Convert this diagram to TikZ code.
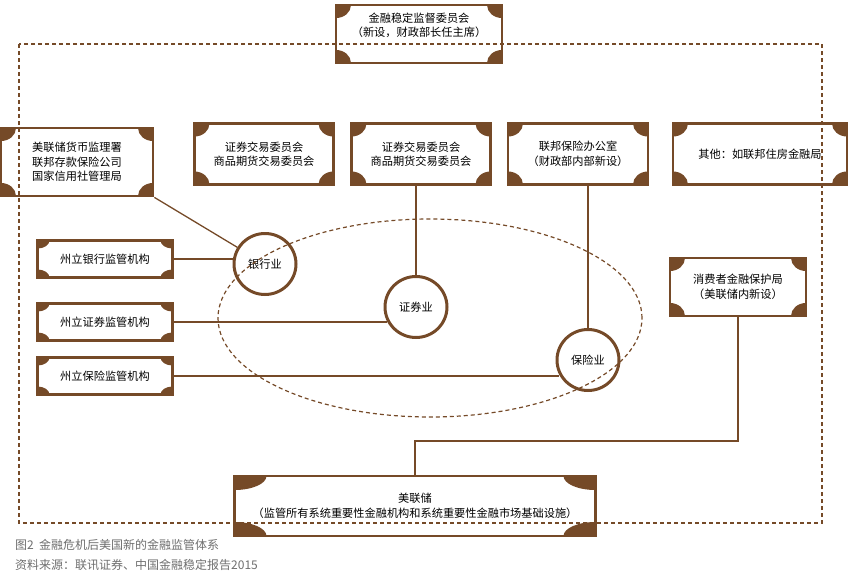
\documentclass[tikz,border=0pt]{standalone}
\usepackage{fontspec}
\newfontfamily\cnfont{Noto Sans CJK SC}
\definecolor{framebrown}{RGB}{117,74,40}
\definecolor{captiongray}{RGB}{110,110,110}
\usepackage{tikz}
\usetikzlibrary{shapes.geometric, positioning}

% filled corner pieces of a card
\newcommand{\cardcorners}[2]{%
  \fill[framebrown]
    (path picture bounding box.north west) ellipse [x radius=#1, y radius=#2]
    (path picture bounding box.north east) ellipse [x radius=#1, y radius=#2]
    (path picture bounding box.south west) ellipse [x radius=#1, y radius=#2]
    (path picture bounding box.south east) ellipse [x radius=#1, y radius=#2];}

\tikzset{
  card/.style={draw=framebrown, line width=2.8pt, align=center, inner sep=0pt,
    font=\cnfont\fontsize{11.2}{14.5}\selectfont,
    path picture={\cardcorners{15pt}{13pt}}},
  flatcard/.style={card, path picture={\cardcorners{12pt}{8pt}}},
  widecard/.style={card, path picture={\cardcorners{32pt}{14pt}}},
  sector/.style={ellipse, draw=framebrown, line width=3pt, inner sep=0pt,
    minimum width=62pt, minimum height=61pt,
    font=\cnfont\fontsize{11.2}{14.5}\selectfont},
  link/.style={draw=framebrown, line width=1.3pt},
  dashline/.style={draw=framebrown, line width=1.2pt, dash pattern=on 4pt off 3pt},
  caption/.style={anchor=west, inner sep=0pt, text=captiongray,
    font=\cnfont\fontsize{12}{14}\selectfont}
}

\begin{document}
\begin{tikzpicture}[x=1pt, y=-1pt]
    \useasboundingbox (0,0) rectangle (849,576);

    % council on top
    \node[card, minimum width=166pt, minimum height=58pt, text depth=19pt] (fsoc) at (419,34)
        {金融稳定监督委员会\\（新设，财政部长任主席）};

    % row of agencies
    \node[card, minimum width=152pt, minimum height=68pt] (occ) at (77,162)
        {美联储货币监理署\\联邦存款保险公司\\国家信用社管理局};
    \node[card, minimum width=139pt, minimum height=61pt] (sec1) at (264,154)
        {证券交易委员会\\商品期货交易委员会};
    \node[card, minimum width=139pt, minimum height=61pt] (sec2) at (421,154)
        {证券交易委员会\\商品期货交易委员会};
    \node[card, minimum width=140pt, minimum height=61pt] (fio) at (578,154)
        {联邦保险办公室\\（财政部内部新设）};
    \node[card, minimum width=174pt, minimum height=61pt] (other) at (760,154)
        {其他：如联邦住房金融局};

    % state supervisors
    \node[flatcard, minimum width=135pt, minimum height=37pt] (stbank) at (105,259) {州立银行监管机构};
    \node[flatcard, minimum width=135pt, minimum height=37pt] (stsec) at (105,322) {州立证券监管机构};
    \node[flatcard, minimum width=135pt, minimum height=37pt] (stins) at (105,376) {州立保险监管机构};

    % sectors
    \node[sector] (bank) at (265,264) {银行业};
    \node[sector] (secs) at (416,307) {证券业};
    \node[sector] (ins) at (588,360) {保险业};

    \node[card, minimum width=136pt, minimum height=58pt] (cfpb) at (738,287)
        {消费者金融保护局\\（美联储内新设）};

    % federal reserve
    \node[widecard, minimum width=361pt, minimum height=60pt] (fed) at (415,506)
        {美联储\\（监管所有系统重要性金融机构和系统重要性金融市场基础设施）};

    % connectors
    \draw[link] (occ.south east) -- (bank);
    \draw[link] (stbank.east) -- (stbank.east -| bank.west);
    \draw[link] (stsec.east) -- ([xshift=3pt]stsec.east -| secs.west);
    \draw[link] (stins.east) -- ([xshift=3pt]stins.east -| ins.west);
    \draw[link] (sec2.south -| secs.north) -- (secs.north);
    \draw[link] (fio.south -| ins.north) -- (ins.north);
    \coordinate (bend) at (0,441);
    \draw[link] (cfpb.south) -- (cfpb.south |- bend) -- (fed.north |- bend) -- (fed.north);

    % dashed outlines
    \draw[dashline] (19,44) rectangle (822,523);
    \draw[dashline] (430,318) ellipse [x radius=212pt, y radius=99pt];

    \node[caption] (cap) at (15,545) {图2\ \ 金融危机后美国新的金融监管体系};
    \node[caption] (src) at (15,565) {资料来源：联讯证券、中国金融稳定报告2015};
\end{tikzpicture}
\end{document}
